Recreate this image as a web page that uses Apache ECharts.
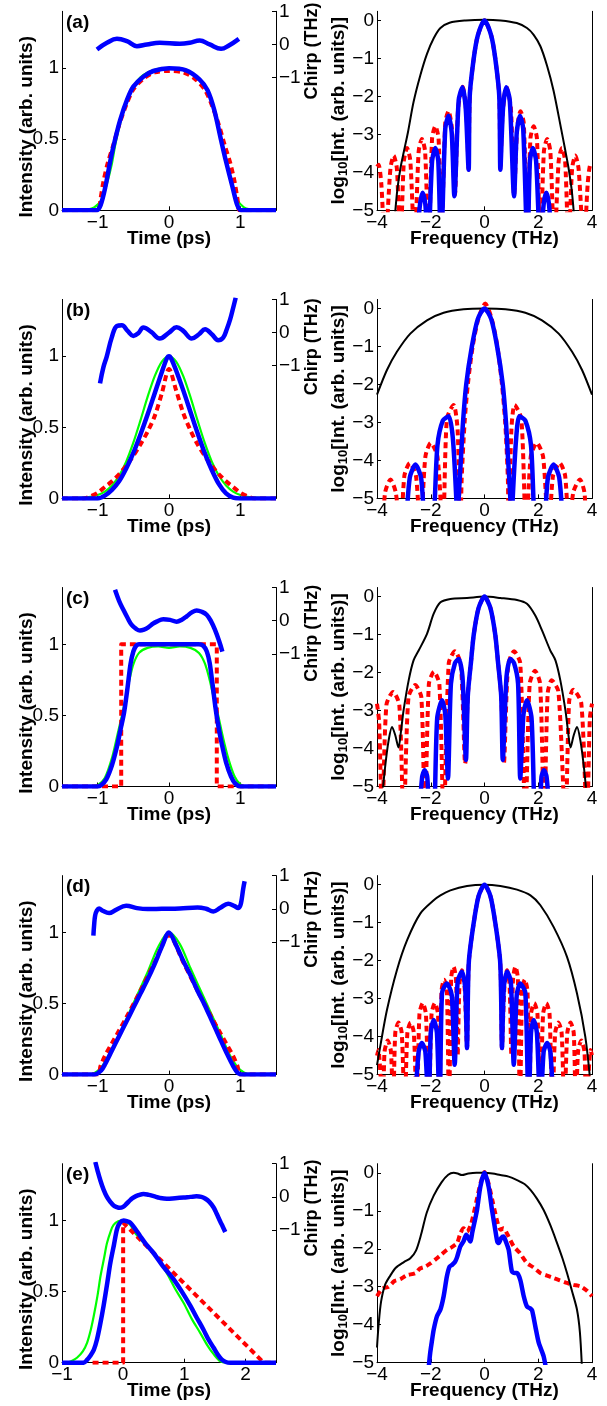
<!DOCTYPE html>
<html><head><meta charset="utf-8">
<script src="https://cdn.jsdelivr.net/npm/echarts@6/dist/echarts.min.js"></script>
<style>html,body{margin:0;padding:0;background:#fff}#c{width:607px;height:1406px}</style>
</head><body><div id="c"></div>
<script>
// ---------- tick labels / categories ----------
const panelLabels = ['(a)','(b)','(c)','(d)','(e)'];
const timeTicksAD = [-1,0,1];
const timeTicksE = [-1,0,1,2];
const intensityTicks = [0,0.5,1];
const chirpTicks = [-1,0,1];
const freqTicks = [-4,-2,0,2,4];
const logTicks = [-5,-4,-3,-2,-1,0];

// ---------- (a) ----------
const aGreen = [[-1.5,0],[-1.25,0],[-1.15,0.005],[-1.05,0.02],[-0.95,0.07],[-0.88,0.17],[-0.8,0.33],[-0.75,0.47],[-0.68,0.62],[-0.6,0.76],[-0.5,0.87],[-0.4,0.935],[-0.3,0.97],[-0.15,0.995],[0,1],[0.15,0.995],[0.3,0.965],[0.4,0.93],[0.5,0.87],[0.6,0.77],[0.67,0.64],[0.73,0.5],[0.8,0.34],[0.87,0.19],[0.95,0.08],[1.05,0.02],[1.15,0.005],[1.25,0],[1.5,0]];
const aRed = [[-1.5,0],[-0.99,0],[-0.96,0.08],[-0.92,0.2],[-0.86,0.33],[-0.78,0.46],[-0.7,0.6],[-0.6,0.74],[-0.5,0.85],[-0.35,0.93],[-0.2,0.97],[0,0.98],[0.2,0.97],[0.35,0.93],[0.5,0.85],[0.6,0.74],[0.7,0.6],[0.78,0.46],[0.86,0.33],[0.92,0.2],[0.96,0.08],[0.99,0],[1.5,0]];
const aBlue = [[-1.5,0],[-1.02,0],[-0.96,0.035],[-0.89,0.17],[-0.82,0.355],[-0.755,0.5],[-0.685,0.635],[-0.59,0.775],[-0.5,0.87],[-0.36,0.94],[-0.22,0.98],[0,1],[0.24,0.985],[0.43,0.92],[0.54,0.845],[0.635,0.705],[0.727,0.5],[0.796,0.35],[0.89,0.165],[0.958,0.035],[1.01,0],[1.5,0]];
const aChirp = [[-1.01,-0.15],[-0.87,0.05],[-0.73,0.17],[-0.59,0.1],[-0.45,-0.05],[-0.31,0.0],[-0.13,0.05],[0.15,0.02],[0.29,0.05],[0.43,0.12],[0.57,0.0],[0.73,-0.13],[0.84,-0.03],[0.98,0.17]];
const aSpecBlack = [[-3.34,-5.2],[-3.25,-4.5],[-3.13,-3.9],[-3.0,-3.45],[-2.85,-2.95],[-2.64,-2.15],[-2.39,-1.45],[-2.14,-0.88],[-1.89,-0.47],[-1.64,-0.2],[-1.3,-0.06],[-0.7,0],[0,0.02],[0.6,0],[1.2,-0.07],[1.58,-0.2],[1.83,-0.38],[2.08,-0.68],[2.33,-1.2],[2.57,-1.85],[2.85,-2.85],[3.0,-3.4],[3.13,-3.9],[3.25,-4.5],[3.34,-5.2]];
const aSpecRed = [[-4.0,-3.85],[-3.94,-3.8],[-3.84,-4.3],[-3.7,-6],[-3.5,-3.9],[-3.38,-3.56],[-3.26,-3.9],[-3.13,-6],[-3.0,-3.7],[-2.88,-3.36],[-2.76,-3.7],[-2.6,-6],[-2.45,-3.45],[-2.33,-3.12],[-2.21,-3.45],[-2.08,-6],[-1.95,-3.1],[-1.83,-2.79],[-1.71,-3.1],[-1.6,-5.6],[-1.46,-2.7],[-1.34,-2.39],[-1.22,-2.8],[-1.1,-4.6],[-0.98,-2.3],[-0.81,-1.75],[-0.67,-2.5],[-0.59,-3.93],[-0.55,-2.0],[-0.4,-1.0],[-0.25,-0.4],[0,0],[0.25,-0.4],[0.4,-1.0],[0.55,-2.0],[0.59,-3.93],[0.67,-2.5],[0.81,-1.75],[0.98,-2.3],[1.1,-4.6],[1.22,-2.8],[1.34,-2.39],[1.46,-2.7],[1.6,-5.6],[1.71,-3.1],[1.83,-2.79],[1.95,-3.1],[2.08,-6],[2.21,-3.45],[2.33,-3.12],[2.45,-3.45],[2.6,-6],[2.76,-3.7],[2.88,-3.36],[3.0,-3.7],[3.13,-6],[3.26,-3.9],[3.38,-3.56],[3.5,-3.9],[3.7,-6],[3.84,-4.3],[3.94,-3.8],[4.0,-3.85]];
const aSpecBlue = [[-2.55,-6],[-2.4,-4.85],[-2.3,-4.54],[-2.2,-4.85],[-2.1,-6],[-1.95,-3.7],[-1.83,-3.36],[-1.72,-3.7],[-1.62,-6],[-1.46,-2.85],[-1.34,-2.51],[-1.22,-2.95],[-1.12,-4.63],[-0.96,-2.1],[-0.82,-1.76],[-0.7,-2.3],[-0.59,-3.93],[-0.55,-2.0],[-0.4,-1.0],[-0.25,-0.4],[0,0],[0.25,-0.4],[0.4,-1.0],[0.55,-2.0],[0.59,-3.93],[0.69,-2.3],[0.81,-1.76],[0.94,-2.1],[1.1,-4.63],[1.2,-2.95],[1.32,-2.51],[1.44,-2.85],[1.6,-6],[1.69,-3.7],[1.8,-3.36],[1.92,-3.7],[2.08,-6],[2.2,-4.85],[2.3,-4.54],[2.4,-4.85],[2.52,-6]];

// ---------- (b) ----------
const bGreen = [[-1.5,0],[-1.2,0.005],[-1.1,0.011],[-1.0,0.024],[-0.9,0.048],[-0.8,0.091],[-0.7,0.159],[-0.6,0.259],[-0.5,0.392],[-0.4,0.549],[-0.3,0.714],[-0.2,0.86],[-0.1,0.963],[0,1],[0.1,0.963],[0.2,0.86],[0.3,0.714],[0.4,0.549],[0.5,0.392],[0.6,0.259],[0.7,0.159],[0.8,0.091],[0.9,0.048],[1.0,0.024],[1.1,0.011],[1.2,0.005],[1.5,0]];
const bRed = [[-1.5,0],[-1.2,0],[-1.1,0.015],[-1.0,0.04],[-0.9,0.08],[-0.8,0.12],[-0.7,0.17],[-0.6,0.23],[-0.5,0.3],[-0.4,0.38],[-0.3,0.47],[-0.2,0.58],[-0.1,0.74],[0,0.91],[0.1,0.76],[0.2,0.6],[0.3,0.48],[0.4,0.38],[0.5,0.3],[0.6,0.23],[0.7,0.17],[0.8,0.12],[0.9,0.08],[1.0,0.04],[1.1,0.015],[1.2,0],[1.5,0]];
const bBlue = [[-1.5,0],[-1.0,0],[-0.9,0.02],[-0.8,0.06],[-0.7,0.12],[-0.6,0.21],[-0.5,0.32],[-0.4,0.45],[-0.3,0.59],[-0.2,0.74],[-0.1,0.89],[-0.03,0.985],[0,1.0],[0.03,0.985],[0.1,0.9],[0.2,0.76],[0.3,0.61],[0.4,0.46],[0.5,0.32],[0.6,0.2],[0.7,0.1],[0.8,0.035],[0.9,0.005],[1.0,0],[1.5,0]];
const bChirp = [[-0.967,-1.53],[-0.92,-1.05],[-0.874,-0.73],[-0.8,-0.13],[-0.73,0.2],[-0.66,0.22],[-0.58,0.05],[-0.5,-0.1],[-0.43,-0.02],[-0.36,0.15],[-0.25,0.02],[-0.13,-0.18],[0.0,0.0],[0.107,0.16],[0.2,0.05],[0.318,-0.18],[0.42,-0.05],[0.505,0.1],[0.6,-0.05],[0.69,-0.23],[0.76,-0.15],[0.81,0.1],[0.855,0.38],[0.9,0.75],[0.935,1.05]];
const bSpecBlack = [[-4,-2.27],[-3.63,-1.62],[-3.26,-1.14],[-2.76,-0.66],[-2.14,-0.31],[-1.52,-0.11],[-0.78,-0.02],[0,0],[0.78,-0.02],[1.52,-0.11],[2.14,-0.31],[2.76,-0.66],[3.26,-1.14],[3.63,-1.62],[4,-2.27]];
const bSpecRed = [[-4,-6],[-3.82,-6],[-3.7,-4.85],[-3.5,-4.5],[-3.3,-4.85],[-3.13,-6],[-2.98,-4.4],[-2.78,-4.07],[-2.55,-4.4],[-2.39,-6],[-2.2,-3.9],[-2.0,-3.54],[-1.75,-3.9],[-1.55,-6],[-1.4,-2.9],[-1.15,-2.54],[-1.0,-3.2],[-0.9,-6],[-0.85,-4.5],[-0.74,-3],[-0.62,-2],[-0.44,-1],[-0.22,-0.25],[0.03,0.13],[0.26,-0.25],[0.48,-1],[0.65,-2],[0.77,-3],[0.87,-4.5],[0.9,-6],[1.0,-3.2],[1.12,-2.54],[1.37,-2.9],[1.55,-6],[1.72,-3.9],[1.95,-3.54],[2.18,-3.9],[2.39,-6],[2.55,-4.4],[2.8,-4.07],[3.0,-4.4],[3.15,-6],[3.3,-4.85],[3.55,-4.5],[3.72,-4.85],[3.82,-6],[4,-6]];
const bSpecBlue = [[-2.92,-5.8],[-2.78,-4.45],[-2.57,-4.11],[-2.36,-4.45],[-2.18,-5.8],[-1.95,-5.8],[-1.75,-3.6],[-1.55,-2.95],[-1.33,-2.84],[-1.18,-3.4],[-1.05,-5.0],[-1.0,-6],[-0.96,-5],[-0.88,-4],[-0.8,-3],[-0.68,-2],[-0.47,-1],[-0.25,-0.28],[0,0],[0.25,-0.28],[0.47,-1],[0.68,-2],[0.8,-3],[0.88,-4],[0.96,-5],[1.0,-6],[1.05,-5.0],[1.18,-3.4],[1.3,-2.84],[1.52,-2.95],[1.73,-3.6],[1.92,-5.8],[2.18,-5.8],[2.36,-4.45],[2.57,-4.11],[2.78,-4.45],[2.92,-5.8]];

// ---------- (c) ----------
const cGreen = [[-1.5,0],[-1.1,0],[-1.0,0.01],[-0.9,0.06],[-0.8,0.2],[-0.72,0.37],[-0.66,0.5],[-0.6,0.64],[-0.55,0.76],[-0.5,0.86],[-0.42,0.94],[-0.3,0.975],[-0.15,0.985],[0,0.975],[0.15,0.985],[0.3,0.975],[0.42,0.94],[0.5,0.87],[0.56,0.77],[0.62,0.64],[0.69,0.5],[0.75,0.36],[0.83,0.2],[0.92,0.07],[1.0,0.015],[1.1,0],[1.5,0]];
const cRed = [[-1.5,0],[-0.67,0],[-0.67,1.0],[0.67,1.0],[0.67,0],[1.5,0]];
const cBlue = [[-1.5,0],[-1.0,0],[-0.95,0.01],[-0.88,0.05],[-0.8,0.15],[-0.73,0.28],[-0.68,0.4],[-0.63,0.52],[-0.58,0.7],[-0.54,0.86],[-0.5,0.95],[-0.46,0.99],[-0.42,1.0],[0.42,1.0],[0.48,0.99],[0.53,0.95],[0.57,0.87],[0.61,0.72],[0.65,0.56],[0.69,0.43],[0.74,0.3],[0.8,0.17],[0.87,0.07],[0.93,0.02],[1.0,0],[1.5,0]];
const cChirp = [[-0.757,0.93],[-0.70,0.6],[-0.64,0.33],[-0.58,0.08],[-0.523,-0.13],[-0.46,-0.25],[-0.407,-0.3],[-0.35,-0.27],[-0.29,-0.2],[-0.23,-0.1],[-0.173,-0.03],[-0.08,0.045],[0.014,0.025],[0.107,-0.03],[0.18,0.03],[0.248,0.13],[0.32,0.25],[0.388,0.31],[0.46,0.27],[0.528,0.18],[0.59,-0.02],[0.645,-0.28],[0.7,-0.6],[0.748,-0.93]];
const cSpecBlack = [[-3.81,-5.3],[-3.7,-4.5],[-3.57,-3.8],[-3.44,-3.43],[-3.32,-3.65],[-3.2,-3.97],[-3.1,-3.5],[-3.01,-2.99],[-2.82,-2.2],[-2.64,-1.68],[-2.45,-1.42],[-2.14,-0.98],[-1.89,-0.45],[-1.64,-0.15],[-1.27,-0.06],[-0.65,-0.035],[0,0],[0.59,-0.035],[1.21,-0.09],[1.58,-0.19],[1.89,-0.5],[2.14,-0.89],[2.45,-1.42],[2.64,-1.68],[2.82,-2.2],[3.01,-2.99],[3.1,-3.5],[3.2,-3.97],[3.32,-3.65],[3.44,-3.43],[3.57,-3.8],[3.7,-4.5],[3.81,-5.3]];
const cSpecRed = [[-4,-2.82],[-3.92,-3.3],[-3.81,-6],[-3.65,-2.85],[-3.4,-2.51],[-3.17,-2.85],[-3.01,-6],[-2.83,-2.65],[-2.58,-2.33],[-2.35,-2.65],[-2.22,-6],[-2.07,-2.3],[-1.88,-1.98],[-1.68,-2.3],[-1.52,-6],[-1.33,-1.75],[-1.1,-1.44],[-0.88,-1.8],[-0.72,-4.4],[-0.62,-2.6],[-0.5,-1.7],[-0.4,-1.0],[-0.22,-0.3],[0,0],[0.22,-0.3],[0.4,-1.0],[0.5,-1.7],[0.62,-2.6],[0.72,-4.4],[0.88,-1.8],[1.1,-1.44],[1.33,-1.75],[1.52,-6],[1.68,-2.3],[1.88,-1.95],[2.07,-2.3],[2.22,-6],[2.35,-2.55],[2.5,-2.2],[2.75,-2.5],[3.01,-6],[3.15,-2.75],[3.3,-2.45],[3.6,-2.8],[3.81,-6],[3.92,-3.2],[4,-2.82]];
const cSpecBlue = [[-2.45,-6],[-2.32,-4.75],[-2.23,-4.57],[-2.13,-4.75],[-2.02,-6],[-1.9,-6],[-1.76,-3.2],[-1.58,-2.73],[-1.46,-3.1],[-1.36,-4.79],[-1.25,-2.3],[-1.1,-1.75],[-0.96,-1.64],[-0.82,-2.1],[-0.69,-4.3],[-0.62,-2.6],[-0.5,-1.7],[-0.4,-1.0],[-0.22,-0.3],[0,0],[0.22,-0.3],[0.4,-1.0],[0.5,-1.7],[0.62,-2.6],[0.68,-4.3],[0.82,-2.1],[0.96,-1.64],[1.1,-1.75],[1.25,-2.3],[1.33,-4.79],[1.45,-3.1],[1.58,-2.73],[1.75,-3.2],[1.9,-6],[2.02,-6],[2.12,-4.75],[2.21,-4.57],[2.31,-4.75],[2.44,-6]];

// ---------- (d) ----------
const dGreen = [[-1.5,0],[-1.15,0],[-1.05,0.01],[-0.95,0.05],[-0.85,0.13],[-0.7,0.28],[-0.5,0.5],[-0.3,0.72],[-0.15,0.9],[0,1.0],[0.15,0.92],[0.3,0.75],[0.5,0.53],[0.7,0.31],[0.85,0.14],[0.95,0.06],[1.05,0.015],[1.15,0],[1.5,0]];
const dRed = [[-1.5,0],[-1.0,0],[-0.96,0.06],[-0.9,0.13],[-0.8,0.22],[-0.7,0.31],[-0.6,0.4],[-0.4,0.59],[-0.2,0.79],[0,0.98],[0.2,0.79],[0.4,0.59],[0.6,0.4],[0.7,0.31],[0.8,0.22],[0.9,0.13],[0.96,0.06],[1.0,0],[1.5,0]];
const dBlue = [[-1.5,0],[-1.05,0],[-0.95,0.03],[-0.9,0.07],[-0.8,0.17],[-0.7,0.27],[-0.6,0.37],[-0.5,0.47],[-0.4,0.57],[-0.3,0.67],[-0.2,0.78],[-0.1,0.9],[0,1.0],[0.1,0.91],[0.2,0.8],[0.3,0.7],[0.4,0.59],[0.5,0.49],[0.6,0.38],[0.7,0.27],[0.8,0.16],[0.9,0.06],[0.97,0.01],[1.05,0],[1.5,0]];
const dChirp = [[-1.06,-0.81],[-1.05,-0.5],[-1.035,-0.2],[-1.01,-0.05],[-0.98,0.01],[-0.93,-0.06],[-0.84,-0.13],[-0.75,-0.04],[-0.6,0.09],[-0.45,0.02],[-0.3,-0.01],[-0.1,0.0],[0.15,0.01],[0.4,0.04],[0.52,0.0],[0.62,-0.08],[0.72,0.03],[0.83,0.15],[0.92,0.08],[0.97,0.02],[1.0,0.1],[1.02,0.3],[1.04,0.6],[1.06,0.83]];
const dSpecBlack = [[-4,-4.75],[-3.88,-4.26],[-3.63,-3.3],[-3.26,-2.25],[-2.88,-1.46],[-2.39,-0.76],[-1.89,-0.41],[-1.64,-0.28],[-1.27,-0.15],[-0.65,-0.035],[0,0],[0.59,-0.035],[1.21,-0.13],[1.71,-0.28],[2.08,-0.54],[2.57,-1.11],[3.07,-1.9],[3.44,-2.86],[3.75,-4.0],[3.94,-5.2]];
const dSpecRed = [[-4,-4.5],[-3.95,-4.35],[-3.78,-6],[-3.72,-4.4],[-3.6,-4.1],[-3.48,-4.4],[-3.4,-6],[-3.32,-3.9],[-3.2,-3.63],[-3.08,-3.9],[-2.97,-6],[-2.87,-3.9],[-2.75,-3.63],[-2.63,-3.9],[-2.52,-6],[-2.42,-3.4],[-2.3,-3.12],[-2.18,-3.4],[-2.07,-6],[-1.97,-3.4],[-1.85,-3.12],[-1.73,-3.4],[-1.68,-6],[-1.6,-2.8],[-1.5,-2.5],[-1.4,-2.8],[-1.32,-6],[-1.24,-2.45],[-1.15,-2.16],[-1.06,-2.5],[-1.0,-4.5],[-0.93,-2.6],[-0.84,-2.25],[-0.74,-2.7],[-0.65,-4.3],[-0.62,-3],[-0.58,-2],[-0.4,-1],[-0.22,-0.3],[0,0],[0.22,-0.3],[0.4,-1],[0.58,-2],[0.62,-3],[0.65,-4.3],[0.74,-2.7],[0.84,-2.25],[0.93,-2.6],[1.0,-4.5],[1.06,-2.5],[1.15,-2.16],[1.24,-2.45],[1.32,-6],[1.4,-2.8],[1.5,-2.5],[1.6,-2.8],[1.68,-6],[1.73,-3.4],[1.85,-3.12],[1.97,-3.4],[2.07,-6],[2.18,-3.4],[2.3,-3.12],[2.42,-3.4],[2.52,-6],[2.63,-3.9],[2.75,-3.63],[2.87,-3.9],[2.97,-6],[3.08,-3.9],[3.2,-3.63],[3.32,-3.9],[3.4,-6],[3.48,-4.4],[3.6,-4.1],[3.72,-4.4],[3.78,-6],[3.95,-4.35],[4,-4.5]];
const dSpecBlue = [[-2.6,-6],[-2.45,-4.4],[-2.33,-4.17],[-2.2,-4.4],[-2.08,-6],[-2.0,-3.9],[-1.89,-3.56],[-1.77,-3.9],[-1.67,-6],[-1.58,-2.85],[-1.4,-2.6],[-1.22,-2.9],[-1.11,-4.74],[-1.0,-2.55],[-0.84,-2.29],[-0.72,-2.7],[-0.65,-4.3],[-0.62,-3],[-0.58,-2],[-0.4,-1],[-0.22,-0.3],[0,0],[0.22,-0.3],[0.4,-1],[0.58,-2],[0.62,-3],[0.65,-4.3],[0.72,-2.7],[0.84,-2.29],[0.98,-2.55],[1.09,-4.74],[1.2,-2.9],[1.33,-2.6],[1.52,-2.85],[1.64,-6],[1.73,-3.9],[1.83,-3.56],[1.95,-3.9],[2.08,-6],[2.2,-4.4],[2.33,-4.17],[2.45,-4.4],[2.57,-6]];

// ---------- (e) ----------
const eGreen = [[-1,0],[-0.92,0],[-0.85,0.01],[-0.755,0.035],[-0.66,0.08],[-0.59,0.14],[-0.53,0.23],[-0.48,0.33],[-0.42,0.47],[-0.37,0.61],[-0.31,0.74],[-0.265,0.84],[-0.2,0.93],[-0.156,0.97],[-0.08,0.995],[-0.02,1.0],[0.05,0.99],[0.116,0.97],[0.2,0.91],[0.3,0.86],[0.44,0.8],[0.58,0.72],[0.715,0.63],[0.85,0.52],[0.99,0.42],[1.12,0.31],[1.26,0.21],[1.38,0.12],[1.48,0.06],[1.59,0.01],[1.7,0],[2.5,0]];
const eRed = [[-0.5,0],[0,0],[0,0.985],[2.3,0],[2.5,0]];
const eBlue = [[-1,0],[-0.645,0],[-0.59,0.02],[-0.54,0.047],[-0.48,0.09],[-0.43,0.16],[-0.38,0.26],[-0.32,0.4],[-0.26,0.56],[-0.21,0.7],[-0.15,0.83],[-0.1,0.94],[-0.05,0.985],[0.007,1.0],[0.06,0.995],[0.116,0.985],[0.2,0.94],[0.28,0.89],[0.38,0.83],[0.5,0.77],[0.65,0.68],[0.82,0.59],[0.96,0.5],[1.1,0.4],[1.2,0.32],[1.31,0.235],[1.4,0.16],[1.48,0.105],[1.55,0.055],[1.61,0.023],[1.68,0.005],[1.75,0],[2.5,0]];
const eChirp = [[-0.455,1.05],[-0.42,0.8],[-0.373,0.5],[-0.32,0.22],[-0.265,0.0],[-0.21,-0.15],[-0.156,-0.26],[-0.1,-0.31],[-0.06,-0.33],[0.0,-0.3],[0.06,-0.2],[0.12,-0.09],[0.17,-0.02],[0.25,0.05],[0.334,0.09],[0.42,0.06],[0.5,0.02],[0.6,-0.03],[0.715,-0.055],[0.85,-0.04],[0.99,-0.02],[1.1,0.0],[1.2,0.015],[1.28,0.0],[1.34,-0.05],[1.41,-0.15],[1.48,-0.32],[1.53,-0.51],[1.59,-0.75],[1.63,-0.9],[1.67,-1.06]];
const eSpecBlack = [[-4,-4.6],[-3.94,-4.0],[-3.85,-3.4],[-3.7,-2.95],[-3.5,-2.7],[-3.3,-2.5],[-3.0,-2.35],[-2.76,-2.25],[-2.55,-2.05],[-2.35,-1.6],[-2.15,-1.05],[-1.89,-0.6],[-1.6,-0.25],[-1.35,-0.05],[-1.15,0.0],[-1.0,-0.02],[-0.84,-0.06],[-0.6,-0.02],[-0.3,0],[0,0],[0.3,-0.02],[0.59,-0.06],[0.9,-0.1],[1.21,-0.19],[1.5,-0.3],[1.71,-0.45],[1.95,-0.68],[2.2,-0.98],[2.45,-1.38],[2.7,-1.85],[2.9,-2.25],[3.07,-2.64],[3.25,-3.1],[3.44,-3.6],[3.55,-4.2],[3.63,-5.2]];
const eSpecRed = [[-4,-3.25],[-3.8,-3.05],[-3.57,-3.0],[-3.35,-2.85],[-3.13,-2.8],[-2.9,-2.7],[-2.57,-2.64],[-2.4,-2.52],[-2.2,-2.47],[-2.0,-2.38],[-1.77,-2.25],[-1.6,-2.15],[-1.4,-2.03],[-1.2,-1.95],[-1.02,-1.85],[-0.9,-1.6],[-0.78,-1.46],[-0.65,-1.55],[-0.5,-1.35],[-0.3,-0.75],[-0.15,-0.28],[0,0.02],[0.15,-0.28],[0.3,-0.75],[0.5,-1.35],[0.6,-1.5],[0.71,-1.46],[0.85,-1.62],[1.09,-1.94],[1.3,-2.1],[1.58,-2.38],[1.8,-2.48],[2.08,-2.64],[2.3,-2.7],[2.57,-2.77],[2.8,-2.83],[3.07,-2.9],[3.3,-2.95],[3.57,-2.99],[3.8,-3.1],[4,-3.25]];
const eSpecBlue = [[-2.1,-5.3],[-2.02,-4.74],[-1.95,-4.4],[-1.89,-4.13],[-1.77,-3.78],[-1.64,-3.6],[-1.52,-3.25],[-1.4,-2.73],[-1.3,-2.47],[-1.2,-2.42],[-1.1,-2.35],[-1.02,-2.22],[-0.9,-1.94],[-0.78,-1.8],[-0.68,-1.63],[-0.6,-1.72],[-0.53,-1.81],[-0.45,-1.55],[-0.28,-0.98],[-0.155,-0.37],[0,0],[0.155,-0.37],[0.28,-0.98],[0.4,-1.5],[0.48,-1.82],[0.53,-1.85],[0.62,-1.72],[0.71,-1.68],[0.8,-1.82],[0.9,-2.03],[1.02,-2.6],[1.12,-2.64],[1.21,-2.64],[1.33,-2.82],[1.46,-3.25],[1.58,-3.52],[1.7,-3.57],[1.77,-3.62],[1.89,-4.04],[2.02,-4.48],[2.2,-4.83],[2.32,-5.3]];

// ---------- layout ----------
const FONT = '"Liberation Sans", Arial, Helvetica, sans-serif';
const TOP0 = 11.3, STEP = 288.1, H = 199;
const chirpLabelY = [51, 346.7, 633.3, 919.2, 1208];

const rows = [
  {tMin:-1.5,tMax:1.5,tTicks:timeTicksAD,green:aGreen,red:aRed,blue:aBlue,chirp:aChirp,sBlack:aSpecBlack,sRed:aSpecRed,sBlue:aSpecBlue,redSmooth:0.3},
  {tMin:-1.5,tMax:1.5,tTicks:timeTicksAD,green:bGreen,red:bRed,blue:bBlue,chirp:bChirp,sBlack:bSpecBlack,sRed:bSpecRed,sBlue:bSpecBlue,redSmooth:0.3},
  {tMin:-1.5,tMax:1.5,tTicks:timeTicksAD,green:cGreen,red:cRed,blue:cBlue,chirp:cChirp,sBlack:cSpecBlack,sRed:cSpecRed,sBlue:cSpecBlue,redSmooth:0},
  {tMin:-1.5,tMax:1.5,tTicks:timeTicksAD,green:dGreen,red:dRed,blue:dBlue,chirp:dChirp,sBlack:dSpecBlack,sRed:dSpecRed,sBlue:dSpecBlue,redSmooth:0.3},
  {tMin:-1,tMax:2.5,tTicks:timeTicksE,green:eGreen,red:eRed,blue:eBlue,chirp:eChirp,sBlack:eSpecBlack,sRed:eSpecRed,sBlue:eSpecBlue,redSmooth:0}
];

function fmt(v){ return v < 0 ? '\u2212' + Math.abs(v) : String(v); }
const axLine = {color:'#000', width:1};
const tickLbl = {fontFamily:FONT, fontSize:19, color:'#000'};
const nameStyle = {fontFamily:FONT, fontSize:19, fontWeight:'bold', color:'#000'};

function xAx(gi, min, max, ticks, name){
  return {type:'value', gridIndex:gi, min, max, splitLine:{show:false},
    axisLine:{show:true, onZero:false, lineStyle:axLine},
    axisTick:{show:true, inside:true, length:4, customValues:ticks, lineStyle:axLine},
    axisLabel:Object.assign({show:true, customValues:ticks, formatter:fmt, margin:3}, tickLbl),
    name, nameLocation:'middle', nameGap:19, nameMoveOverlap:false, nameTextStyle:nameStyle};
}
function yAx(gi, pos, min, max, ticks, extra){
  return Object.assign({type:'value', gridIndex:gi, position:pos, min, max, splitLine:{show:false},
    axisLine:{show:true, onZero:false, lineStyle:axLine},
    axisTick:{show:!!ticks, inside:true, length:4, customValues:ticks||[], lineStyle:axLine},
    axisLabel:Object.assign({show:!!ticks, customValues:ticks||[], formatter:fmt, margin:3}, tickLbl)}, extra||{});
}
function ln(data, xi, yi, color, width, type, smooth){
  return {type:'line', data, xAxisIndex:xi, yAxisIndex:yi, symbol:'none', showSymbol:false, smooth,
    lineStyle:{color, width, type, cap:'butt', join:'round'}, itemStyle:{color}, silent:true, clip:true, animation:false};
}

const grid=[], xAxis=[], yAxis=[], series=[], graphic=[];
rows.forEach((r,i)=>{
  const top = TOP0 + i*STEP;
  grid.push({left:62, top, width:214, height:H});
  grid.push({left:377, top, width:215, height:H});
  xAxis.push(xAx(2*i, r.tMin, r.tMax, r.tTicks, 'Time (ps)'));
  xAxis.push(xAx(2*i+1, -4, 4, freqTicks, 'Frequency (THz)'));
  yAxis.push(yAx(2*i, 'left', 0, 1.4, intensityTicks, {
    name:'Intensity (arb. units)', nameLocation:'middle', nameRotate:90, nameGap:26, nameMoveOverlap:false,
    nameTextStyle:Object.assign({padding:[0,32,0,0]}, nameStyle)}));
  yAxis.push(yAx(2*i, 'right', -5, 1, chirpTicks));
  yAxis.push(yAx(2*i+1, 'left', -5, 0.24, logTicks, {
    name:'{n|log}{s|10}{n|[Int. (arb. units)]}', nameLocation:'middle', nameRotate:90, nameGap:27, nameMoveOverlap:false,
    nameTextStyle:{rich:{
      n:{fontFamily:FONT, fontSize:19, fontWeight:'bold', color:'#000', lineHeight:21, verticalAlign:'top'},
      s:{fontFamily:FONT, fontSize:13, fontWeight:'bold', color:'#000', lineHeight:13, padding:[8,0,0,0], verticalAlign:'top'}}}}));
  yAxis.push(yAx(2*i+1, 'right', -5, 0.24, null));
  const xl=2*i, xr=2*i+1, yi=4*i, yc=4*i+1, ys=4*i+2;
  series.push(ln(r.green, xl, yi, '#00ff00', 2.2, 'solid', 0.3));
  series.push(ln(r.red, xl, yi, '#ff0000', 4, [6,4], r.redSmooth));
  series.push(ln(r.blue, xl, yi, '#0000ff', 4.5, 'solid', 0.3));
  series.push(ln(r.chirp, xl, yc, '#0000ff', 4.5, 'solid', 0.4));
  series.push(ln(r.sRed, xr, ys, '#ff0000', 4, [6,4], 0.25));
  series.push(ln(r.sBlack, xr, ys, '#000000', 2, 'solid', 0.3));
  series.push(ln(r.sBlue, xr, ys, '#0000ff', 4.5, 'solid', 0.25));
  graphic.push({type:'text', x:66, y:top+11.5, silent:true,
    style:{text:panelLabels[i], font:'bold 19px '+FONT, fill:'#000', align:'left', verticalAlign:'middle', textAlign:'left', textVerticalAlign:'middle'}});
  graphic.push({type:'text', x:312.5, y:chirpLabelY[i], rotation:Math.PI/2, silent:true,
    style:{text:'Chirp (THz)', font:'bold 18px '+FONT, fill:'#000', align:'center', verticalAlign:'middle', textAlign:'center', textVerticalAlign:'middle'}});
});

const chart = echarts.init(document.getElementById('c'), null, {renderer:'canvas', width:607, height:1406});
chart.setOption({backgroundColor:'#ffffff', animation:false, grid, xAxis, yAxis, series, graphic});
</script></body></html>
